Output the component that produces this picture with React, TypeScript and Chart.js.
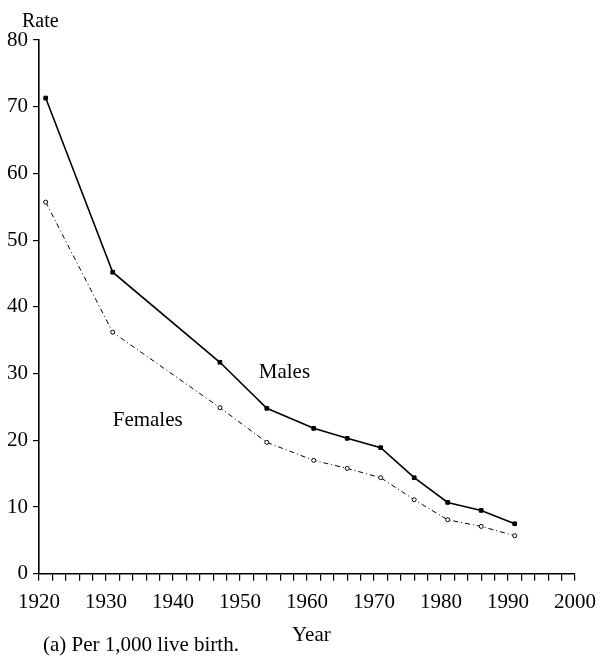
import { useEffect, useRef } from 'react';
import { Chart, registerables } from 'chart.js';

Chart.register(...registerables);

const years = [1921, 1931, 1947, 1954, 1961, 1966, 1971, 1976, 1981, 1986, 1991];
const males = [71.3, 45.2, 31.7, 24.8, 21.8, 20.3, 18.9, 14.4, 10.7, 9.5, 7.5];
const females = [55.7, 36.2, 24.9, 19.7, 17.0, 15.8, 14.4, 11.1, 8.1, 7.1, 5.7];
const xMajorTicks = [1920, 1930, 1940, 1950, 1960, 1970, 1980, 1990, 2000];
const yTicks = [0, 10, 20, 30, 40, 50, 60, 70, 80];

const FONT = '"Liberation Serif", "Times New Roman", serif';

const textPlugin = {
  id: 'texts',
  afterDraw(chart: any) {
    const ctx = chart.ctx;
    const xs = chart.scales.x;
    const ys = chart.scales.y;
    ctx.save();
    ctx.fillStyle = '#000';
    ctx.textAlign = 'left';
    ctx.textBaseline = 'alphabetic';
    ctx.font = `20px ${FONT}`;
    ctx.fillText('Rate', 22, 27);
    ctx.font = `21px ${FONT}`;
    ctx.fillText('Males', xs.getPixelForValue(1952.8), ys.getPixelForValue(29.3));
    ctx.fillText('Females', xs.getPixelForValue(1931.0), ys.getPixelForValue(22.1));
    ctx.fillText('Year', 292, 641);
    ctx.fillText('(a) Per 1,000 live birth.', 43, 651);
    ctx.restore();
  },
};

export default function App() {
  const ref = useRef<HTMLCanvasElement | null>(null);
  useEffect(() => {
    document.body.style.margin = '0';
    if (!ref.current) return;
    const chart = new Chart(ref.current, {
      type: 'line',
      data: {
        datasets: [
          {
            label: 'Males',
            data: years.map((yr, i) => ({ x: yr, y: males[i] })),
            borderColor: '#000',
            borderWidth: 1.6,
            pointStyle: 'rect',
            pointRadius: 2.6,
            pointBackgroundColor: '#000',
            pointBorderColor: '#000',
            pointBorderWidth: 1,
            tension: 0,
          },
          {
            label: 'Females',
            data: years.map((yr, i) => ({ x: yr, y: females[i] })),
            borderColor: '#000',
            borderWidth: 1,
            borderDash: [5, 3, 1, 3],
            pointStyle: 'circle',
            pointRadius: 2,
            pointBackgroundColor: '#fff',
            pointBorderColor: '#000',
            pointBorderWidth: 1,
            tension: 0,
          },
        ],
      },
      options: {
        responsive: false,
        animation: false,
        devicePixelRatio: 1,
        layout: { padding: { left: 2, right: 27, top: 40, bottom: 33 } },
        plugins: {
          legend: { display: false },
          tooltip: { enabled: false },
          title: { display: false },
        },
        scales: {
          x: {
            type: 'linear',
            min: 1920,
            max: 2000,
            ticks: {
              stepSize: 2,
              autoSkip: false,
              maxRotation: 0,
              padding: 9,
              color: '#000',
              font: { family: FONT, size: 21 },
              callback: (v: any) => (xMajorTicks.includes(Number(v)) ? String(v) : ''),
            },
            grid: {
              drawOnChartArea: false,
              drawTicks: true,
              tickLength: 7,
              color: '#000',
              lineWidth: 1.2,
            },
            border: { display: true, color: '#000', width: 1.6 },
          },
          y: {
            type: 'linear',
            min: 0,
            max: 80,
            afterBuildTicks: (axis: any) => {
              axis.ticks = yTicks.map((v) => ({ value: v }));
            },
            ticks: {
              padding: 5,
              color: '#000',
              font: { family: FONT, size: 21 },
            },
            grid: {
              drawOnChartArea: false,
              drawTicks: true,
              tickLength: 6,
              color: '#000',
              lineWidth: 1.2,
            },
            border: { display: true, color: '#000', width: 1.6 },
          },
        },
      },
      plugins: [textPlugin],
    });
    return () => chart.destroy();
  }, []);
  return <canvas ref={ref} width={605} height={657} style={{ display: 'block' }} />;
}
